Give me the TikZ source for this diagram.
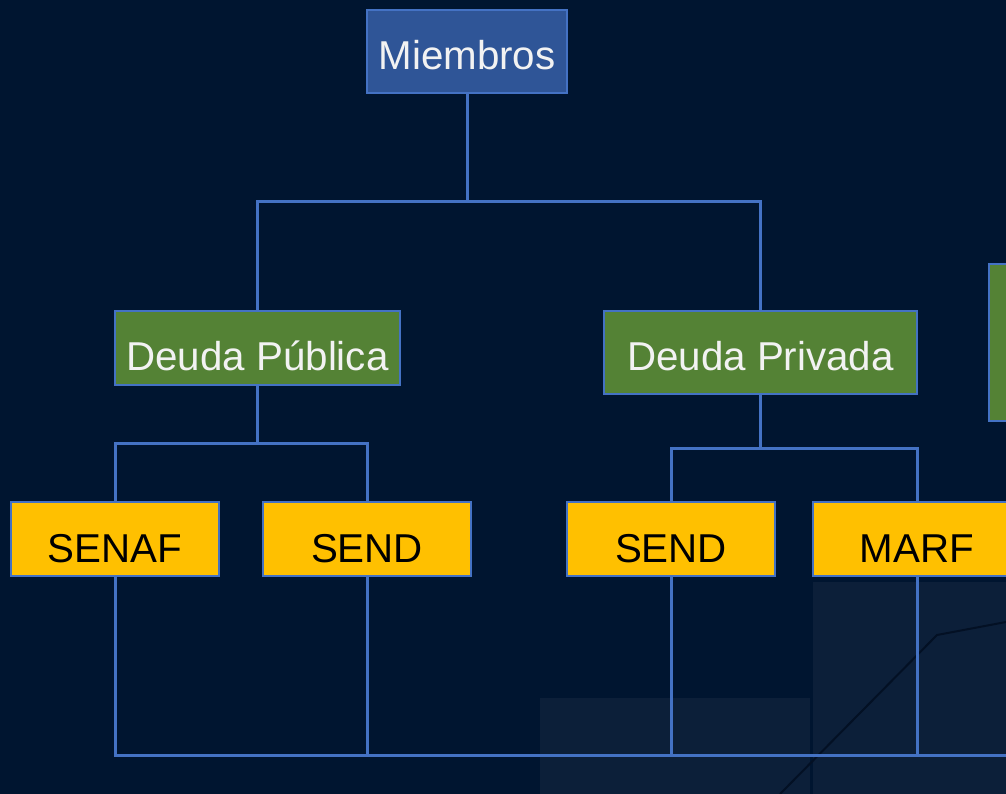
\documentclass[tikz,border=0pt]{standalone}
\usepackage{fontspec}
\setmainfont{Liberation Sans}
\definecolor{bgnavy}{RGB}{0,21,48}
\definecolor{bgfaint}{RGB}{12,31,57}
\definecolor{bgline}{RGB}{3,16,36}
\definecolor{linkblue}{RGB}{68,114,196}
\definecolor{topblue}{RGB}{47,85,151}
\definecolor{midgreen}{RGB}{84,130,53}
\definecolor{leafyellow}{RGB}{255,192,0}
\definecolor{lighttext}{RGB}{242,242,242}
\begin{document}
\begin{tikzpicture}[x=1pt,y=-1pt,
  box/.style={draw=linkblue,line width=1.5pt,inner sep=0pt,anchor=center,
    font=\fontsize{40.3}{48}\selectfont,text depth=0pt},
  topbox/.style={box,fill=topblue,text=lighttext},
  midbox/.style={box,fill=midgreen,text=lighttext},
  leafbox/.style={box,fill=leafyellow,text=black,minimum width=208pt,minimum height=74pt,text height=46pt},
  link/.style={draw=linkblue,line width=3pt}]
\useasboundingbox (0,0) rectangle (1006,794);
\fill[bgnavy] (0,0) rectangle (1006,794);
% faint background decoration
\fill[bgfaint] (540,698) rectangle (810,794);
\fill[bgfaint] (813,582) rectangle (1006,794);
\draw[bgline,line width=2pt] (780,794) -- (937,635) -- (1006,622);
\begin{scope}
\clip (0,0) rectangle (1006,794);
% nodes
\node[topbox,minimum width=200pt,minimum height=83pt,text height=35.5pt] (miem) at (467,51.5) {Miembros};
\node[midbox,minimum width=285pt,minimum height=74pt,text height=44pt] (dpub) at (257.5,348) {Deuda Pública};
\node[midbox,minimum width=313pt,minimum height=83pt,text height=36pt] (dpriv) at (760.5,352.5) {Deuda Privada};
\node[midbox,minimum width=60pt,minimum height=157pt] (dextra) at (1019,342.5) {};
\node[leafbox] (senaf) at (115,539) {SENAF};
\node[leafbox] (sendA) at (367,539) {SEND};
\node[leafbox] (sendB) at (671,539) {SEND};
\node[leafbox] (marf) at (917,539) {MARF};
% connectors
\coordinate (j1) at (467,202);
\coordinate (j2) at (257.5,443);
\coordinate (j3) at (760.5,448);
\coordinate (bot) at (115,755);
\coordinate (botend) at (1010,755);
\draw[link] (miem.south) -- (j1);
\draw[link] (dpub.north) |- (j1) -| (dpriv.north);
\draw[link] (dpub.south) -- (j2);
\draw[link] (senaf.north) |- (j2) -| (sendA.north);
\draw[link] (dpriv.south) -- (j3);
\draw[link] (sendB.north) |- (j3) -| (marf.north);
\draw[link] (senaf.south) -- (bot) -- (botend);
\draw[link] (sendA.south) -- (sendA.south |- bot);
\draw[link] (sendB.south) -- (sendB.south |- bot);
\draw[link] (marf.south) -- (marf.south |- bot);
\end{scope}
\end{tikzpicture}
\end{document}
